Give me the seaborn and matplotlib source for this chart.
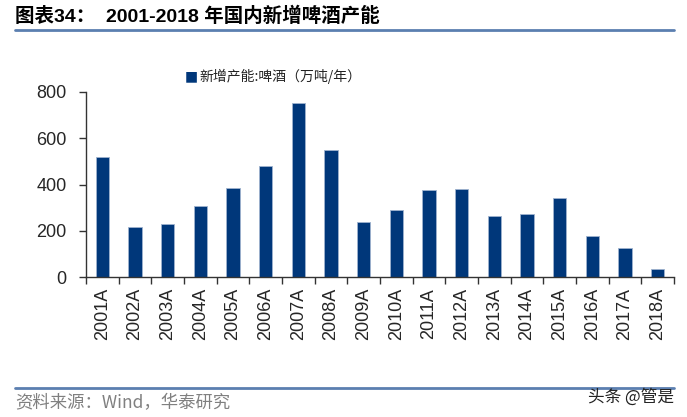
import pandas as pd
import matplotlib
matplotlib.use("Agg")
import matplotlib.pyplot as plt
import seaborn as sns

#Data
years = ["2001A", "2002A", "2003A", "2004A", "2005A", "2006A", "2007A", "2008A", "2009A",
         "2010A", "2011A", "2012A", "2013A", "2014A", "2015A", "2016A", "2017A", "2018A"]
capacity = [520, 216, 229, 308, 383, 481, 752, 550, 239,
            291, 377, 379, 265, 274, 341, 179, 127, 33]
yticks = [0, 200, 400, 600, 800]

series_name = "新增产能:啤酒（万吨/年）"
title_text = "图表34：  2001-2018 年国内新增啤酒产能"
source_text = "资料来源：Wind，华泰研究"
watermark_text = "头条 @管是"

DataFrame = pd.DataFrame({"year": years, "capacity": capacity})

sns.set_style("white")
plt.rcParams["font.family"] = ["Liberation Sans", "Noto Sans CJK SC", "DejaVu Sans"]

bar_color = "#00377a"
line_color = "#5b7fb0"

fig = plt.figure(figsize=(6.87, 4.17), dpi=100)
ax = fig.add_axes([86 / 687, 1 - 277 / 417, (674 - 86) / 687, (277 - 92) / 417])

sns.barplot(data=DataFrame, x="year", y="capacity", color=bar_color, width=0.41,
            edgecolor="#9fb3cf", linewidth=0.6, saturation=1, ax=ax)

ax.set_ylim(0, 800)
ax.set_xlim(-0.5, len(years) - 0.5)
ax.set_yticks(yticks)
ax.set_xlabel("")
ax.set_ylabel("")
for side in ["top", "right"]:
    ax.spines[side].set_visible(False)
for side in ["left", "bottom"]:
    ax.spines[side].set_color("#333333")
    ax.spines[side].set_linewidth(1.0)

#Ticks on the y axis point outward, x ticks sit between categories
ax.tick_params(axis="y", which="major", left=True, direction="out", length=5, width=1,
               color="#333333", labelsize=13, pad=9)
ax.set_xticks(range(len(years)))
ax.set_xticklabels(years, rotation=90, fontsize=13)
ax.tick_params(axis="x", which="major", bottom=True, length=0, pad=8)
ax.set_xticks([i + 0.5 for i in range(-1, len(years))], minor=True)
ax.tick_params(axis="x", which="minor", bottom=True, direction="out", length=5, width=1,
               color="#333333")

#Legend drawn as a square marker and text
fig.text(185 / 687, 1 - 76 / 417, "■", color=bar_color, fontsize=10, va="center",
         family=["DejaVu Sans"])
fig.text(199 / 687, 1 - 76 / 417, series_name, fontsize=10, va="center", color="#222222",
         family=["Noto Sans CJK SC", "DejaVu Sans"])

#Title, rules and source
fig.text(15 / 687, 1 - 16 / 417, title_text, fontsize=14, fontweight="bold", va="center",
         color="black")
fig.add_artist(plt.Line2D([15 / 687, 674 / 687], [1 - 30 / 417, 1 - 30 / 417],
                          color=line_color, linewidth=2))
fig.add_artist(plt.Line2D([15 / 687, 674 / 687], [1 - 388 / 417, 1 - 388 / 417],
                          color=line_color, linewidth=2))
fig.text(15 / 687, 1 - 403 / 417, source_text, fontsize=12.5, va="center", color="#808080",
         family=["Noto Sans CJK SC", "DejaVu Sans"])
fig.text(674 / 687, 1 - 397 / 417, watermark_text, fontsize=12, va="center", ha="right",
         color="#222222", family=["Noto Sans CJK SC", "DejaVu Sans"])

fig.savefig("out.png", dpi=100)
